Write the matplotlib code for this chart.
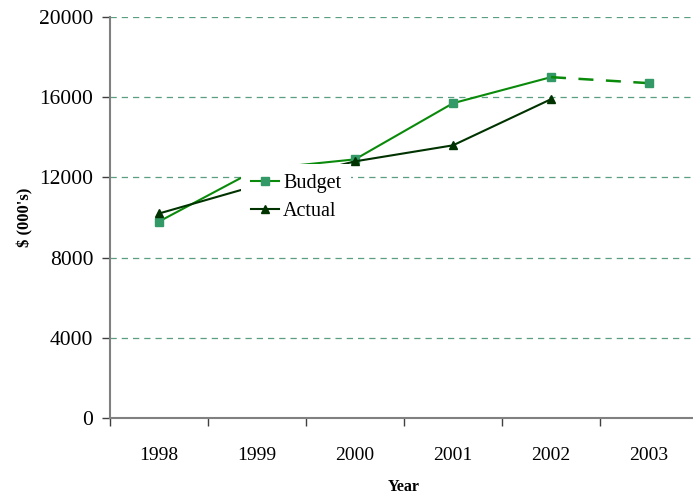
import matplotlib.pyplot as plt
import numpy as np

plt.rcParams['font.family'] = ['Liberation Serif', 'DejaVu Serif']

years = ['1998', '1999', '2000', '2001', '2002', '2003']
budget = [9800, 12400, 12900, 15700, 17000, 16700]
actual = [10200, 11600, 12800, 13600, 15900]

budget_line = '#0a8a0a'
budget_marker = '#339966'
actual_color = '#003300'
grid_color = '#5a9f80'
axis_color = '#808080'

fig = plt.figure(figsize=(6.93, 5.0), dpi=100)
ax = fig.add_axes([110 / 693, 82 / 500, 588 / 693, 401 / 500])

x = np.arange(len(years)) + 0.5
n_act = len(actual)

# budget: solid through last actual year, dashed projection after
ax.plot(x[:n_act], budget[:n_act], color=budget_line, lw=1.5, marker='s',
        ms=6, mfc=budget_marker, mec=budget_marker, label='Budget', zorder=3)
ax.plot(x[n_act - 1:], budget[n_act - 1:], color=budget_line, lw=1.8,
        ls=(0, (6, 5)), zorder=3)
ax.plot(x[n_act:], budget[n_act:], ls='none', marker='s', ms=6,
        mfc=budget_marker, mec=budget_marker, zorder=3)
ax.plot(x[:n_act], actual, color=actual_color, lw=1.5, marker='^', ms=6,
        mfc=actual_color, mec=actual_color, label='Actual', zorder=3)

ax.set_xlim(0, len(years))
ax.set_ylim(0, 20000)
ax.set_yticks(np.arange(0, 20001, 4000))
ax.set_xticks(np.arange(len(years)))
ax.set_xticks(x, minor=True)
ax.set_xticklabels([])
ax.set_xticklabels(years, minor=True)
ax.tick_params(axis='x', which='major', length=6, width=1, color='#404040',
               direction='out')
ax.tick_params(axis='x', which='minor', length=0, pad=21, labelsize=14)
ax.tick_params(axis='y', length=6, width=1, color='#404040', labelsize=15.5,
               pad=6)

ax.yaxis.grid(True, color=grid_color, ls=(0, (5, 4)), lw=0.9)
ax.set_axisbelow(True)

for s in ['top', 'right']:
    ax.spines[s].set_visible(False)
for s in ['left', 'bottom']:
    ax.spines[s].set_color(axis_color)
    ax.spines[s].set_linewidth(1.5)

ax.set_xlabel('Year', fontsize=11.5, fontweight='bold', labelpad=11)
ax.set_ylabel("$ (000's)", fontsize=12, fontweight='bold', labelpad=4)

leg = ax.legend(loc='upper left', bbox_to_anchor=(241 / 693, 1 - 164 / 500),
                bbox_transform=fig.transFigure, fontsize=14.5, frameon=True,
                fancybox=False, edgecolor='none', facecolor='white',
                framealpha=1, borderpad=0.5, borderaxespad=0,
                handlelength=1.4, handletextpad=0.2, labelspacing=0.45)
leg.set_zorder(5)

fig.savefig('out.png', dpi=100, facecolor='white')
